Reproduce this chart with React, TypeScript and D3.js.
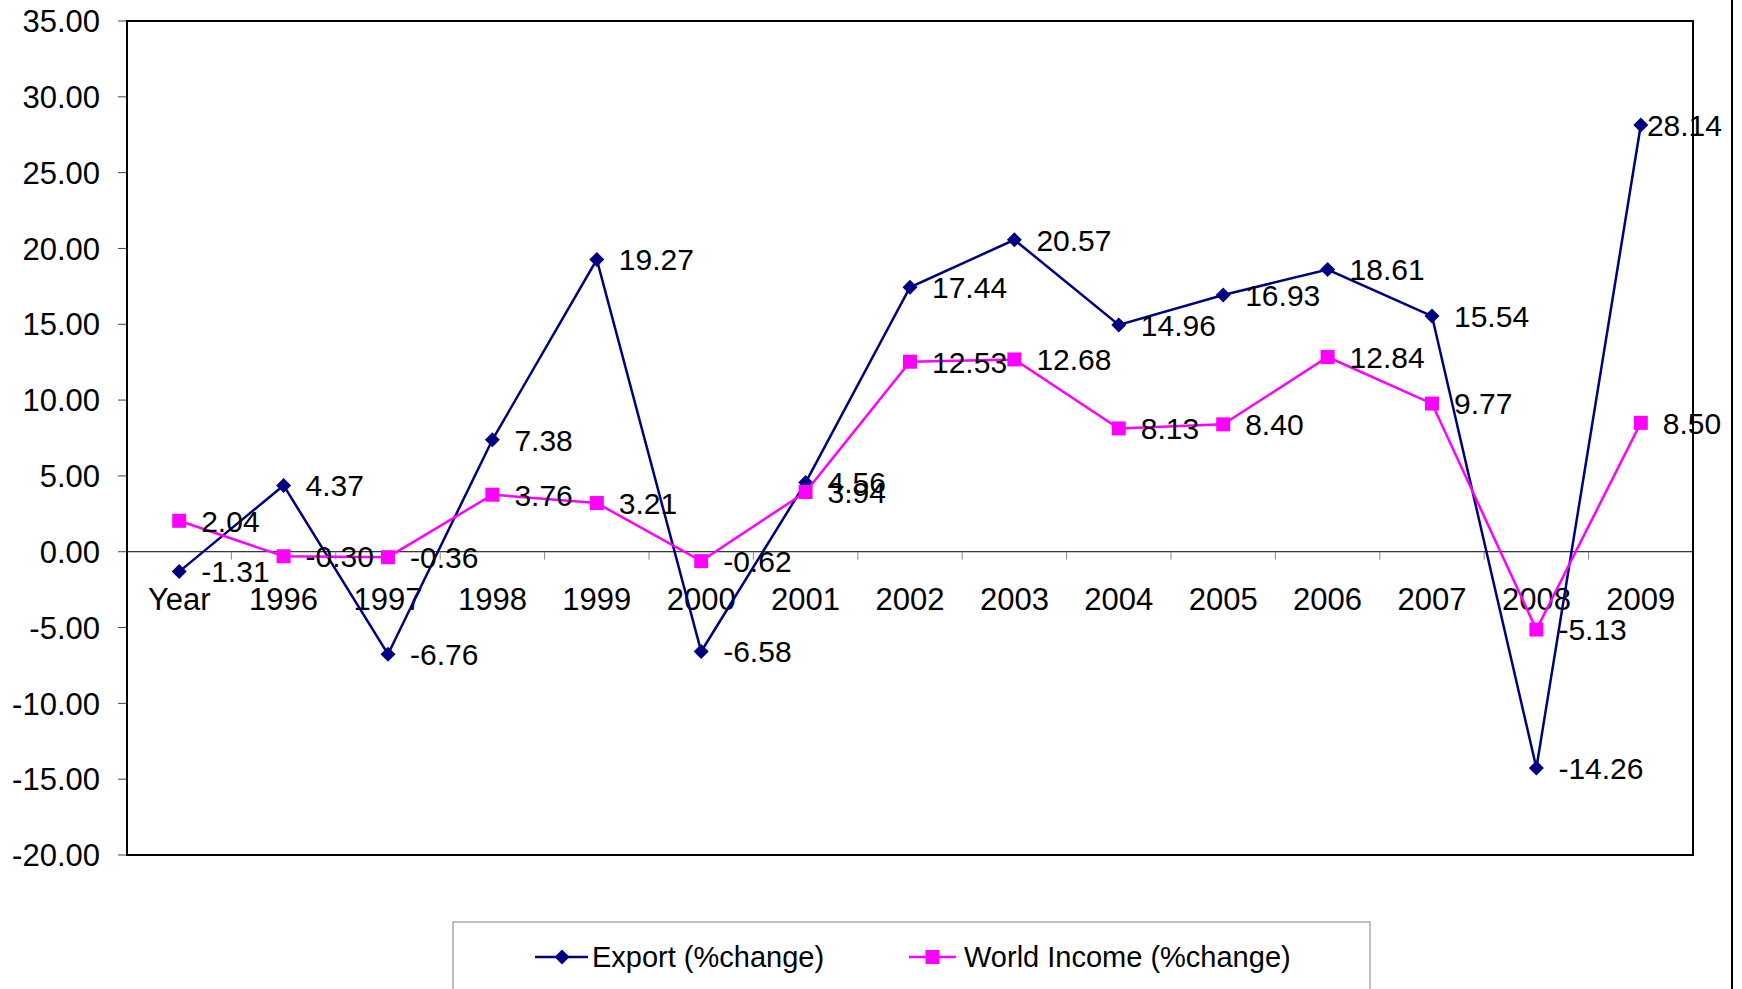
import React from "react";
import * as d3 from "d3";

const categories = ["Year", "1996", "1997", "1998", "1999", "2000", "2001", "2002", "2003", "2004", "2005", "2006", "2007", "2008", "2009"];
const exportValues = [-1.31, 4.37, -6.76, 7.38, 19.27, -6.58, 4.56, 17.44, 20.57, 14.96, 16.93, 18.61, 15.54, -14.26, 28.14];
const incomeValues = [2.04, -0.30, -0.36, 3.76, 3.21, -0.62, 3.94, 12.53, 12.68, 8.13, 8.40, 12.84, 9.77, -5.13, 8.50];
const yTicks = [35, 30, 25, 20, 15, 10, 5, 0, -5, -10, -15, -20];
const seriesNames = ["Export (%change)", "World Income (%change)"];

const W = 1742;
const H = 989;
const L = 127, R = 1693, T = 21, B = 855;
const FONT = "'Liberation Sans', Arial, sans-serif";
const NAVY = "#000080";
const MAG = "#FF00FF";

export default function App() {
  const x = d3.scaleBand<string>().domain(categories).range([L, R]).paddingInner(0).paddingOuter(0);
  const cx = (c: string) => (x(c) as number) + x.bandwidth() / 2;
  const y = d3.scaleLinear().domain([-20, 35]).range([B, T]);
  const line = d3.line<number>().x((_, i) => cx(categories[i])).y((v) => y(v));

  const labelX = (px: number, txt: string) => {
    const w = txt.replace(/[.\-]/g, "").length * 16.7 + (txt.includes(".") ? 8.3 : 0) + (txt.includes("-") ? 10 : 0);
    const start = px + 22;
    if (start + w > 1722) return 1722 - w;
    return start;
  };

  const diamond = (px: number, py: number, s: number) =>
    `M${px},${py - s}L${px + s},${py}L${px},${py + s}L${px - s},${py}Z`;

  return (
    <div style={{ position: "fixed", left: 0, top: 0, width: W, height: H, background: "#fff" }}>
      <svg width={W} height={H} style={{ display: "block", fontFamily: FONT }}>
        <rect x={0} y={0} width={W} height={H} fill="#fff" />
        {/* y ticks + labels */}
        {yTicks.map((t) => (
          <g key={"y" + t}>
            <line x1={118} x2={L} y1={y(t)} y2={y(t)} stroke="#444" strokeWidth={1} />
            <text x={100} y={y(t)} dy="0.36em" textAnchor="end" fontSize={31} fill="#000">
              {t.toFixed(2)}
            </text>
          </g>
        ))}
        {/* zero line */}
        <line x1={L} x2={R} y1={y(0)} y2={y(0)} stroke="#000" strokeWidth={1} />
        {/* x ticks */}
        {categories.slice(1).map((c) => (
          <line key={"xt" + c} x1={x(c) as number} x2={x(c) as number} y1={y(0)} y2={y(0) + 8} stroke="#888" strokeWidth={1} />
        ))}
        {/* x labels */}
        {categories.map((c) => (
          <text key={"xl" + c} x={cx(c)} y={y(0) + 58} textAnchor="middle" fontSize={31} fill="#000">
            {c}
          </text>
        ))}
        {/* plot border */}
        <rect x={L} y={T} width={R - L} height={B - T} fill="none" stroke="#000" strokeWidth={2} />
        {/* Export series */}
        <path d={line(exportValues) as string} fill="none" stroke={NAVY} strokeWidth={2.5} />
        {exportValues.map((v, i) => (
          <path key={"em" + i} d={diamond(cx(categories[i]), y(v), 7.5)} fill={NAVY} />
        ))}
        {/* World Income series */}
        <path d={line(incomeValues) as string} fill="none" stroke={MAG} strokeWidth={2.5} />
        {incomeValues.map((v, i) => (
          <rect key={"im" + i} x={cx(categories[i]) - 7} y={y(v) - 7} width={14} height={14} fill={MAG} />
        ))}
        {/* data labels */}
        {exportValues.map((v, i) => {
          const t = v.toFixed(2);
          return (
            <text key={"el" + i} x={labelX(cx(categories[i]), t)} y={y(v)} dy="0.36em" fontSize={30} fill="#000">
              {t}
            </text>
          );
        })}
        {incomeValues.map((v, i) => {
          const t = v.toFixed(2);
          return (
            <text key={"il" + i} x={labelX(cx(categories[i]), t)} y={y(v)} dy="0.36em" fontSize={30} fill="#000">
              {t}
            </text>
          );
        })}
        {/* right frame line */}
        <line x1={1732} x2={1732} y1={0} y2={H} stroke="#000" strokeWidth={2} />
        {/* legend */}
        <rect x={453} y={922} width={917} height={100} fill="#fff" stroke="#808080" strokeWidth={1} />
        <line x1={535} x2={588} y1={957} y2={957} stroke={NAVY} strokeWidth={2.5} />
        <path d={diamond(562, 957, 7.5)} fill={NAVY} />
        <text x={592} y={957} dy="0.36em" fontSize={29} fill="#000">{seriesNames[0]}</text>
        <line x1={909} x2={956} y1={957} y2={957} stroke={MAG} strokeWidth={2.5} />
        <rect x={925.5} y={950} width={14} height={14} fill={MAG} />
        <text x={964} y={957} dy="0.36em" fontSize={29} fill="#000">{seriesNames[1]}</text>
      </svg>
    </div>
  );
}
